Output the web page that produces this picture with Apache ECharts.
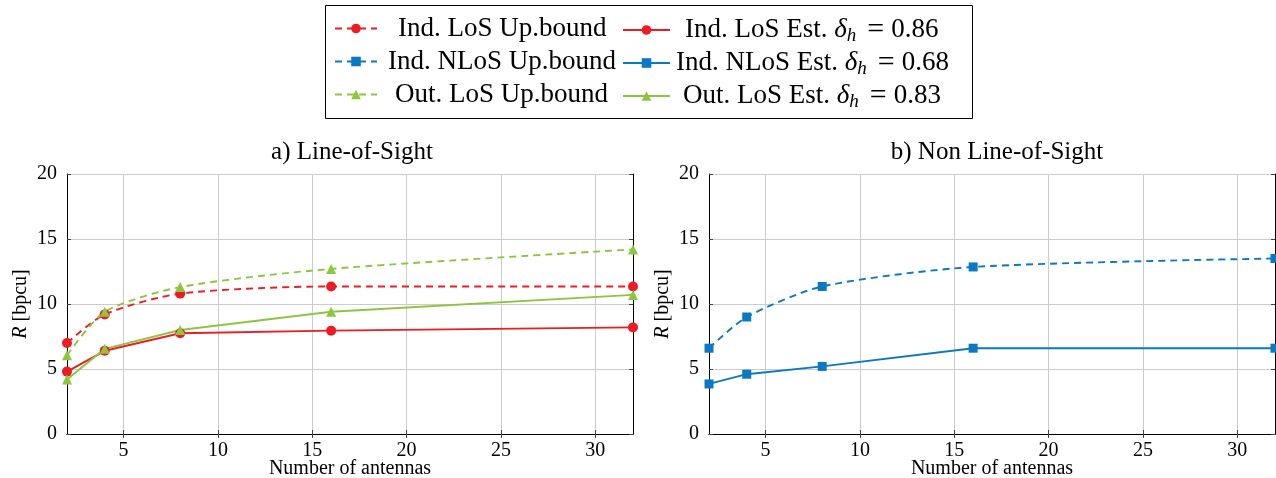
<!DOCTYPE html>
<html>
<head>
<meta charset="utf-8">
<script src="https://cdn.jsdelivr.net/npm/echarts@6/dist/echarts.min.js"></script>
<style>
  html, body { margin: 0; padding: 0; background: #ffffff; }
  #chart { width: 1276px; height: 478px; }
</style>
</head>
<body>
<div id="chart"></div>
<script>
// number of antennas (x positions)
const antennas = [2, 4, 8, 16, 32];
// a) line-of-sight
const indLosUp = [7.0, 9.2, 10.8, 11.35, 11.35];
const indLosEst = [4.8, 6.4, 7.75, 7.95, 8.2];
const outLosUp = [6.05, 9.4, 11.3, 12.7, 14.2];
const outLosEst = [4.2, 6.55, 8.0, 9.4, 10.7];
// b) non line-of-sight
const indNlosUp = [6.6, 9.0, 11.35, 12.85, 13.5];
const indNlosEst = [3.85, 4.6, 5.2, 6.6, 6.6];
// tick labels
const xTicks = [5, 10, 15, 20, 25, 30];
const yTicks = [0, 5, 10, 15, 20];

const FONT = 'Liberation Serif';
const RED = '#ed1c24';
const BLUE = '#0a78c2';
const GREEN = '#8cc63f';

function pts(vals) {
  return antennas.map((x, i) => [x, vals[i]]);
}

function mkSeries(name, vals, color, symbol, size, dashed, grid) {
  return {
    name: name,
    type: 'line',
    xAxisIndex: grid * 2,
    yAxisIndex: grid * 2,
    data: pts(vals),
    symbol: symbol,
    symbolSize: size,
    smooth: dashed ? 0.25 : false,
    color: color,
    lineStyle: { color: color, width: 1.9, type: dashed ? [7, 5] : 'solid' },
    itemStyle: { color: color },
    z: dashed ? 3 : 4
  };
}

function xAxes(grid) {
  return [
    {
      type: 'value', gridIndex: grid, position: 'bottom', min: 2, max: 32,
      name: 'Number of antennas', nameLocation: 'middle', nameGap: 25, nameMoveOverlap: false,
      nameTextStyle: { fontFamily: FONT, fontSize: 20, color: '#000', verticalAlign: 'top' },
      axisLine: { lineStyle: { color: '#000', width: 1 } },
      axisTick: { inside: true, length: 4, customValues: xTicks, lineStyle: { color: '#444' } },
      axisLabel: { customValues: xTicks, fontFamily: FONT, fontSize: 20, color: '#000', margin: 7 },
      splitLine: { show: true, lineStyle: { color: '#cccccc', width: 1 } }
    },
    {
      type: 'value', gridIndex: grid, position: 'top', min: 2, max: 32,
      axisLine: { lineStyle: { color: '#000', width: 1 } },
      axisTick: { inside: true, length: 4, customValues: xTicks, lineStyle: { color: '#444' } },
      axisLabel: { show: false },
      splitLine: { show: false }
    }
  ];
}

function yAxes(grid) {
  return [
    {
      type: 'value', gridIndex: grid, position: 'left', min: 0, max: 20, interval: 5,
      name: '{i|R} [bpcu]', nameLocation: 'middle', nameGap: 36,
      nameTextStyle: {
        fontFamily: FONT, fontSize: 20, color: '#000',
        rich: { i: { fontFamily: FONT, fontSize: 20, fontStyle: 'italic', color: '#000' } }
      },
      axisLine: { show: true, lineStyle: { color: '#000', width: 1 } },
      axisTick: { show: true, inside: true, length: 4, lineStyle: { color: '#444' } },
      axisLabel: { fontFamily: FONT, fontSize: 20, color: '#000', margin: 10 },
      splitLine: { show: true, lineStyle: { color: '#cccccc', width: 1 } }
    },
    {
      type: 'value', gridIndex: grid, position: 'right', min: 0, max: 20, interval: 5,
      axisLine: { show: true, lineStyle: { color: '#000', width: 1 } },
      axisTick: { show: true, inside: true, length: 4, lineStyle: { color: '#444' } },
      axisLabel: { show: false },
      splitLine: { show: false }
    }
  ];
}

function legendAt(name, x, y, w, pad) {
  return {
    data: [name],
    left: x,
    top: y,
    itemWidth: w,
    itemHeight: 12,
    padding: 0,
    formatter: function (n) {
      return n.replace('δ_h = ', '{d|δ}{s|h}{e|=}');
    },
    textStyle: {
      fontFamily: FONT, fontSize: 27, color: '#000',
      padding: [0, 0, 0, pad],
      rich: {
        d: { fontFamily: FONT, fontSize: 27, fontStyle: 'italic', color: '#000' },
        s: { fontFamily: FONT, fontSize: 19, fontStyle: 'italic', color: '#000', padding: [12, 0, 0, 0] },
        e: { fontFamily: FONT, fontSize: 30, color: '#000', padding: [0, 7, 0, 11] }
      }
    }
  };
}

const chart = echarts.init(document.getElementById('chart'), null, { renderer: 'canvas' });
chart.setOption({
  backgroundColor: '#ffffff',
  animation: false,
  title: [
    { text: 'a) Line-of-Sight', left: 347, top: 135, textAlign: 'center',
      textStyle: { fontFamily: FONT, fontSize: 25, fontWeight: 'normal', color: '#000' } },
    { text: 'b) Non Line-of-Sight', left: 992, top: 135, textAlign: 'center',
      textStyle: { fontFamily: FONT, fontSize: 25, fontWeight: 'normal', color: '#000' } }
  ],
  graphic: [
    { type: 'rect', shape: { x: 325.5, y: 5.5, width: 647, height: 113 },
      style: { fill: 'none', stroke: '#000', lineWidth: 1 }, z: -1 }
  ],
  legend: [
    legendAt('Ind. LoS Up.bound', 334, 15, 42, 16),
    legendAt('Ind. NLoS Up.bound', 334, 48, 42, 6),
    legendAt('Out. LoS Up.bound', 334, 81, 42, 13),
    legendAt('Ind. LoS Est. δ_h = 0.86', 622, 15, 47, 10),
    legendAt('Ind. NLoS Est. δ_h = 0.68', 622, 48, 47, 1),
    legendAt('Out. LoS Est. δ_h = 0.83', 622, 81, 47, 8)
  ],
  grid: [
    { left: 67, right: 643, top: 174, bottom: 44, outerBoundsMode: 'none' },
    { left: 709, right: 1, top: 174, bottom: 44, outerBoundsMode: 'none' }
  ],
  xAxis: xAxes(0).concat(xAxes(1)),
  yAxis: yAxes(0).concat(yAxes(1)),
  series: [
    mkSeries('Ind. LoS Up.bound', indLosUp, RED, 'circle', 10, true, 0),
    mkSeries('Ind. LoS Est. δ_h = 0.86', indLosEst, RED, 'circle', 10, false, 0),
    mkSeries('Out. LoS Up.bound', outLosUp, GREEN, 'triangle', 10, true, 0),
    mkSeries('Out. LoS Est. δ_h = 0.83', outLosEst, GREEN, 'triangle', 10, false, 0),
    mkSeries('Ind. NLoS Up.bound', indNlosUp, BLUE, 'rect', 9, true, 1),
    mkSeries('Ind. NLoS Est. δ_h = 0.68', indNlosEst, BLUE, 'rect', 9, false, 1)
  ]
});
</script>
</body>
</html>
